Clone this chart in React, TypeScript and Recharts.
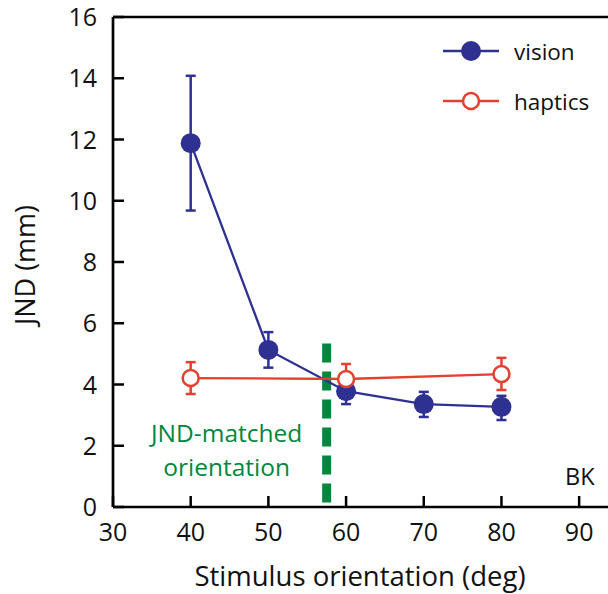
import {
  LineChart,
  Line,
  XAxis,
  YAxis,
  ErrorBar,
  ReferenceLine,
  ReferenceDot,
  Legend,
} from "recharts";

// stimulus orientation (deg)
const visionAngles = [40, 50, 60, 70, 80];
const visionJnd = [11.88, 5.13, 3.78, 3.36, 3.27];
const visionErrLow = [2.2, 0.58, 0.42, 0.42, 0.43];
const visionErrHigh = [2.2, 0.58, 0.42, 0.4, 0.36];

const hapticAngles = [40, 60, 80];
const hapticJnd = [4.21, 4.18, 4.34];
const hapticErrLow = [0.52, 0.42, 0.52];
const hapticErrHigh = [0.52, 0.49, 0.53];

const matchedAngle = 57.5;
const matchedSpan = [0.15, 5.4];

const xTicks = [30, 40, 50, 60, 70, 80, 90];
const yTicks = [0, 2, 4, 6, 8, 10, 12, 14, 16];

const NAVY = "#2e3192";
const RED = "#e4402f";
const GREEN = "#00873e";
const FONT = "'Open Sans', sans-serif";

const visionData = visionAngles.map((a, i) => ({
  angle: a,
  jnd: visionJnd[i],
  err: [visionErrLow[i], visionErrHigh[i]],
}));
const hapticData = hapticAngles.map((a, i) => ({
  angle: a,
  jnd: hapticJnd[i],
  err: [hapticErrLow[i], hapticErrHigh[i]],
}));

// inward tick marks, labels outside the frame
const YTick = (props: any) => {
  const { x, y, payload } = props;
  return (
    <g>
      <line x1={x + 16} x2={x + 27} y1={y} y2={y} stroke="#000" strokeWidth={2.5} />
      <text x={x} y={y} dy="0.36em" textAnchor="end" fontSize={25} fontFamily={FONT} fill="#111">
        {payload.value}
      </text>
    </g>
  );
};

const XTick = (props: any) => {
  const { x, y, payload } = props;
  return (
    <g>
      <line x1={x} x2={x} y1={y - 16} y2={y - 27} stroke="#000" strokeWidth={2.5} />
      <text x={x} y={y} dy="0.72em" textAnchor="middle" fontSize={25} fontFamily={FONT} fill="#111">
        {payload.value}
      </text>
    </g>
  );
};

const YTitle = (props: any) => {
  const { viewBox } = props;
  const cx = 25;
  const cy = viewBox.y + viewBox.height / 2 + 3;
  return (
    <text
      x={cx}
      y={cy}
      transform={`rotate(-90 ${cx} ${cy})`}
      dy="0.36em"
      textAnchor="middle"
      fontSize={27}
      fontFamily={FONT}
      fill="#111"
    >
      JND (mm)
    </text>
  );
};

const XTitle = (props: any) => {
  const { viewBox } = props;
  return (
    <text x={360} y={viewBox.y + 79} textAnchor="middle" fontSize={27.5} fontFamily={FONT} fill="#111">
      Stimulus orientation (deg)
    </text>
  );
};

const LegendBox = () => (
  <div style={{ fontFamily: FONT, fontSize: 22.5, color: "#111" }}>
    {[
      { name: "vision", color: NAVY, fill: NAVY },
      { name: "haptics", color: RED, fill: "#fff" },
    ].map((s) => (
      <div key={s.name} style={{ display: "flex", alignItems: "center", height: 50 }}>
        <svg width={56} height={22} style={{ marginRight: 15 }}>
          <line x1={0} x2={56} y1={11} y2={11} stroke={s.color} strokeWidth={2.3} />
          <circle cx={28} cy={11} r={s.fill === "#fff" ? 8 : 10} fill={s.fill} stroke={s.color} strokeWidth={s.fill === "#fff" ? 2.5 : 0} />
        </svg>
        <span>{s.name}</span>
      </div>
    ))}
  </div>
);

const MatchedLabel = (props: any) => {
  const { viewBox } = props;
  const cx = viewBox.x - 100;
  const bottom = viewBox.y + viewBox.height;
  return (
    <g fontFamily={FONT} fontSize={24.5} fill={GREEN} textAnchor="middle">
      <text x={cx} y={bottom - 60}>JND-matched</text>
      <text x={cx} y={bottom - 26}>orientation</text>
    </g>
  );
};

export default function App() {
  return (
    <div style={{ position: "fixed", left: 0, top: 0, width: 608, height: 594, overflow: "hidden", background: "#fff" }}>
      <LineChart width={625} height={594} margin={{ top: 17, right: 7, bottom: 0, left: 0 }}>
        <XAxis
          dataKey="angle"
          type="number"
          domain={[30, 95]}
          ticks={xTicks}
          allowDuplicatedCategory={false}
          tickSize={0}
          tickMargin={16}
          tick={<XTick />}
          height={87}
          axisLine={{ stroke: "#000", strokeWidth: 2.7 }}
          label={<XTitle />}
        />
        <YAxis
          dataKey="jnd"
          type="number"
          domain={[0, 16]}
          ticks={yTicks}
          tickSize={0}
          tickMargin={16}
          tick={<YTick />}
          width={113}
          axisLine={{ stroke: "#000", strokeWidth: 2.7 }}
          label={<YTitle />}
        />
        <ReferenceLine y={16} stroke="#000" strokeWidth={2.7} />
        <ReferenceLine x={95} stroke="#000" strokeWidth={2.7} />
        <ReferenceLine
          segment={[
            { x: matchedAngle, y: matchedSpan[0] },
            { x: matchedAngle, y: matchedSpan[1] },
          ]}
          stroke={GREEN}
          strokeWidth={9}
          strokeDasharray="19 9"
          label={<MatchedLabel />}
        />
        <ReferenceDot
          x={92}
          y={1.0}
          r={0}
          label={{ value: "BK", position: "left", fontSize: 23.5, fontFamily: FONT, fill: "#111", offset: 0 }}
        />
        <Legend
          verticalAlign="middle"
          align="center"
          layout="horizontal"
          content={<LegendBox />}
          wrapperStyle={{ top: 26, left: 443, width: 165 }}
        />
        <Line
          data={visionData}
          dataKey="jnd"
          name="vision"
          stroke={NAVY}
          strokeWidth={2.3}
          dot={{ r: 10, fill: NAVY, stroke: "none" }}
          isAnimationActive={false}
        >
          <ErrorBar dataKey="err" direction="y" width={5} stroke={NAVY} strokeWidth={2.5} />
        </Line>
        <Line
          data={hapticData}
          dataKey="jnd"
          name="haptics"
          stroke={RED}
          strokeWidth={2.3}
          dot={{ r: 8, fill: "#fff", stroke: RED, strokeWidth: 2.5 }}
          isAnimationActive={false}
        >
          <ErrorBar dataKey="err" direction="y" width={5} stroke={RED} strokeWidth={2.5} />
        </Line>
      </LineChart>
    </div>
  );
}
